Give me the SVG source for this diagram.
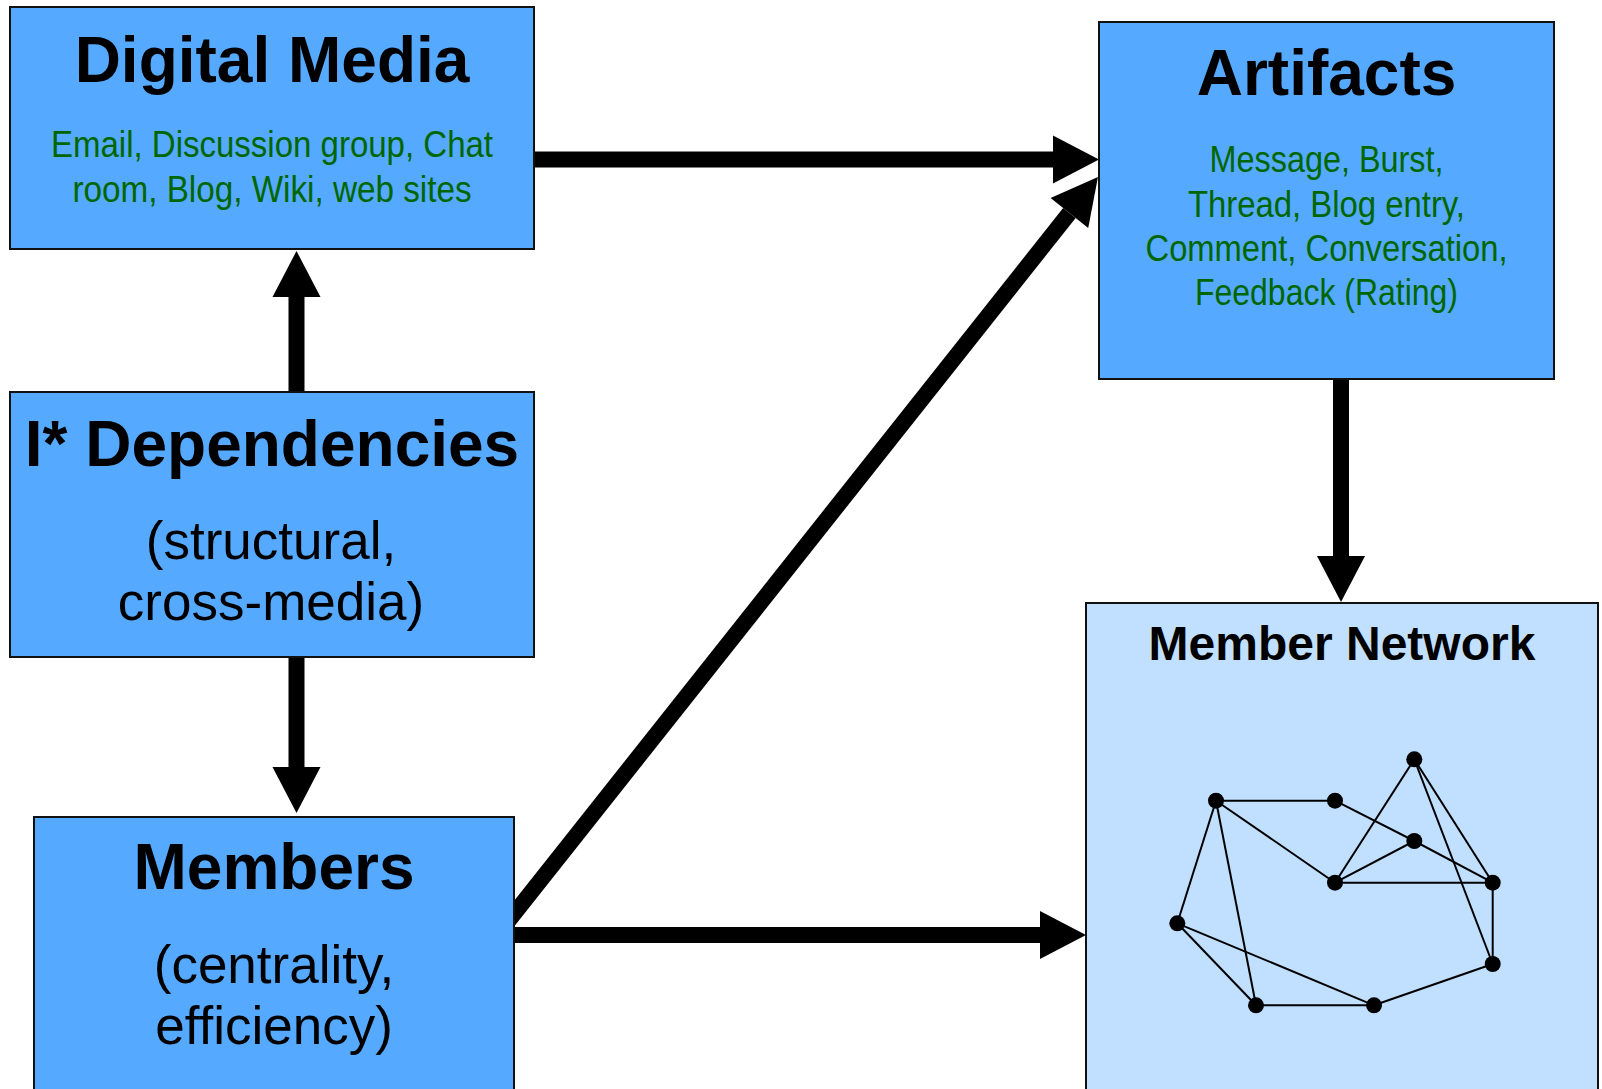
<svg xmlns="http://www.w3.org/2000/svg" width="1602" height="1089" viewBox="0 0 1602 1089">
  <style>
    .box { fill: #55AAFF; stroke: #111; stroke-width: 2; }
    .net { fill: #C1E0FF; stroke: #111; stroke-width: 2; }
    .title { font-family: "Liberation Sans", Arial, sans-serif; font-weight: bold; fill: #000; text-anchor: middle; }
    .sub { font-family: "Liberation Sans", Arial, sans-serif; font-size: 53px; fill: #000; text-anchor: middle; }
    .green { font-family: "Liberation Sans Narrow", "Liberation Sans", Arial, sans-serif; font-size: 36px; fill: #006600; text-anchor: middle; }
    .conn { stroke: #000; stroke-width: 16; fill: none; marker-end: url(#head); }
    .edge { stroke: #000; stroke-width: 2; }
    .dot { fill: #000; }
  </style>
  <defs>
    <marker id="head" markerUnits="userSpaceOnUse" markerWidth="46" markerHeight="48" refX="0" refY="24" orient="auto" overflow="visible">
      <path d="M0,0 L46,24 L0,48 Z" fill="#000"/>
    </marker>
  </defs>

  <rect width="1602" height="1089" fill="#fff"/>

  <!-- connectors -->
  <g id="connectors">
    <line class="conn" x1="534" y1="159.5" x2="1053" y2="159.5"/>
    <line class="conn" x1="296.5" y1="392" x2="296.5" y2="297"/>
    <line class="conn" x1="296.5" y1="657" x2="296.5" y2="767"/>
    <line class="conn" x1="1341" y1="379" x2="1341" y2="556"/>
    <line class="conn" x1="514" y1="935" x2="1040" y2="935"/>
    <line class="conn" x1="500" y1="931.4" x2="1069.4" y2="213"/>
  </g>

  <!-- Digital Media -->
  <g id="digital-media">
    <rect class="box" x="10" y="7" width="524" height="242"/>
    <text class="title" x="272" y="82" font-size="64">Digital Media</text>
    <text class="green" x="272" y="157" textLength="442" lengthAdjust="spacingAndGlyphs">Email, Discussion group, Chat</text>
    <text class="green" x="272" y="202" textLength="399" lengthAdjust="spacingAndGlyphs">room, Blog, Wiki, web sites</text>
  </g>

  <!-- Artifacts -->
  <g id="artifacts">
    <rect class="box" x="1099" y="22" width="455" height="357"/>
    <text class="title" x="1326.5" y="95" font-size="64">Artifacts</text>
    <text class="green" x="1326.5" y="172" textLength="234" lengthAdjust="spacingAndGlyphs">Message, Burst,</text>
    <text class="green" x="1326.5" y="217" textLength="277" lengthAdjust="spacingAndGlyphs">Thread, Blog entry,</text>
    <text class="green" x="1326.5" y="261" textLength="362" lengthAdjust="spacingAndGlyphs">Comment, Conversation,</text>
    <text class="green" x="1326.5" y="305" textLength="263" lengthAdjust="spacingAndGlyphs">Feedback (Rating)</text>
  </g>

  <!-- I* Dependencies -->
  <g id="dependencies">
    <rect class="box" x="10" y="392" width="524" height="265"/>
    <text class="title" x="272" y="466" font-size="64">I* Dependencies</text>
    <text class="sub" x="271" y="559">(structural,</text>
    <text class="sub" x="271" y="620">cross-media)</text>
  </g>

  <!-- Members -->
  <g id="members">
    <rect class="box" x="34" y="817" width="480" height="290"/>
    <text class="title" x="274" y="889" font-size="64">Members</text>
    <text class="sub" x="274" y="983">(centrality,</text>
    <text class="sub" x="274" y="1044">efficiency)</text>
  </g>

  <!-- Member Network -->
  <g id="member-network">
    <rect class="net" x="1086" y="603" width="512" height="504"/>
    <text class="title" x="1342" y="660" font-size="48">Member Network</text>
    <g id="graph">
      <line class="edge" x1="1216" y1="800.7" x2="1335" y2="800.7"/>
      <line class="edge" x1="1216" y1="800.7" x2="1335" y2="882.7"/>
      <line class="edge" x1="1216" y1="800.7" x2="1177.3" y2="923.3"/>
      <line class="edge" x1="1216" y1="800.7" x2="1256" y2="1005.3"/>
      <line class="edge" x1="1335" y1="800.7" x2="1414.3" y2="841"/>
      <line class="edge" x1="1414.3" y1="841" x2="1335" y2="882.7"/>
      <line class="edge" x1="1414.3" y1="841" x2="1492.7" y2="882.7"/>
      <line class="edge" x1="1414.3" y1="759.3" x2="1335" y2="882.7"/>
      <line class="edge" x1="1414.3" y1="759.3" x2="1492.7" y2="882.7"/>
      <line class="edge" x1="1414.3" y1="759.3" x2="1492.7" y2="964"/>
      <line class="edge" x1="1335" y1="882.7" x2="1492.7" y2="882.7"/>
      <line class="edge" x1="1492.7" y1="882.7" x2="1492.7" y2="964"/>
      <line class="edge" x1="1177.3" y1="923.3" x2="1256" y2="1005.3"/>
      <line class="edge" x1="1177.3" y1="923.3" x2="1374" y2="1005.3"/>
      <line class="edge" x1="1256" y1="1005.3" x2="1374" y2="1005.3"/>
      <line class="edge" x1="1374" y1="1005.3" x2="1492.7" y2="964"/>
      <circle class="dot" cx="1216" cy="800.7" r="8"/>
      <circle class="dot" cx="1335" cy="800.7" r="8"/>
      <circle class="dot" cx="1414.3" cy="759.3" r="8"/>
      <circle class="dot" cx="1414.3" cy="841" r="8"/>
      <circle class="dot" cx="1335" cy="882.7" r="8"/>
      <circle class="dot" cx="1492.7" cy="882.7" r="8"/>
      <circle class="dot" cx="1177.3" cy="923.3" r="8"/>
      <circle class="dot" cx="1492.7" cy="964" r="8"/>
      <circle class="dot" cx="1256" cy="1005.3" r="8"/>
      <circle class="dot" cx="1374" cy="1005.3" r="8"/>
    </g>
  </g>
</svg>
